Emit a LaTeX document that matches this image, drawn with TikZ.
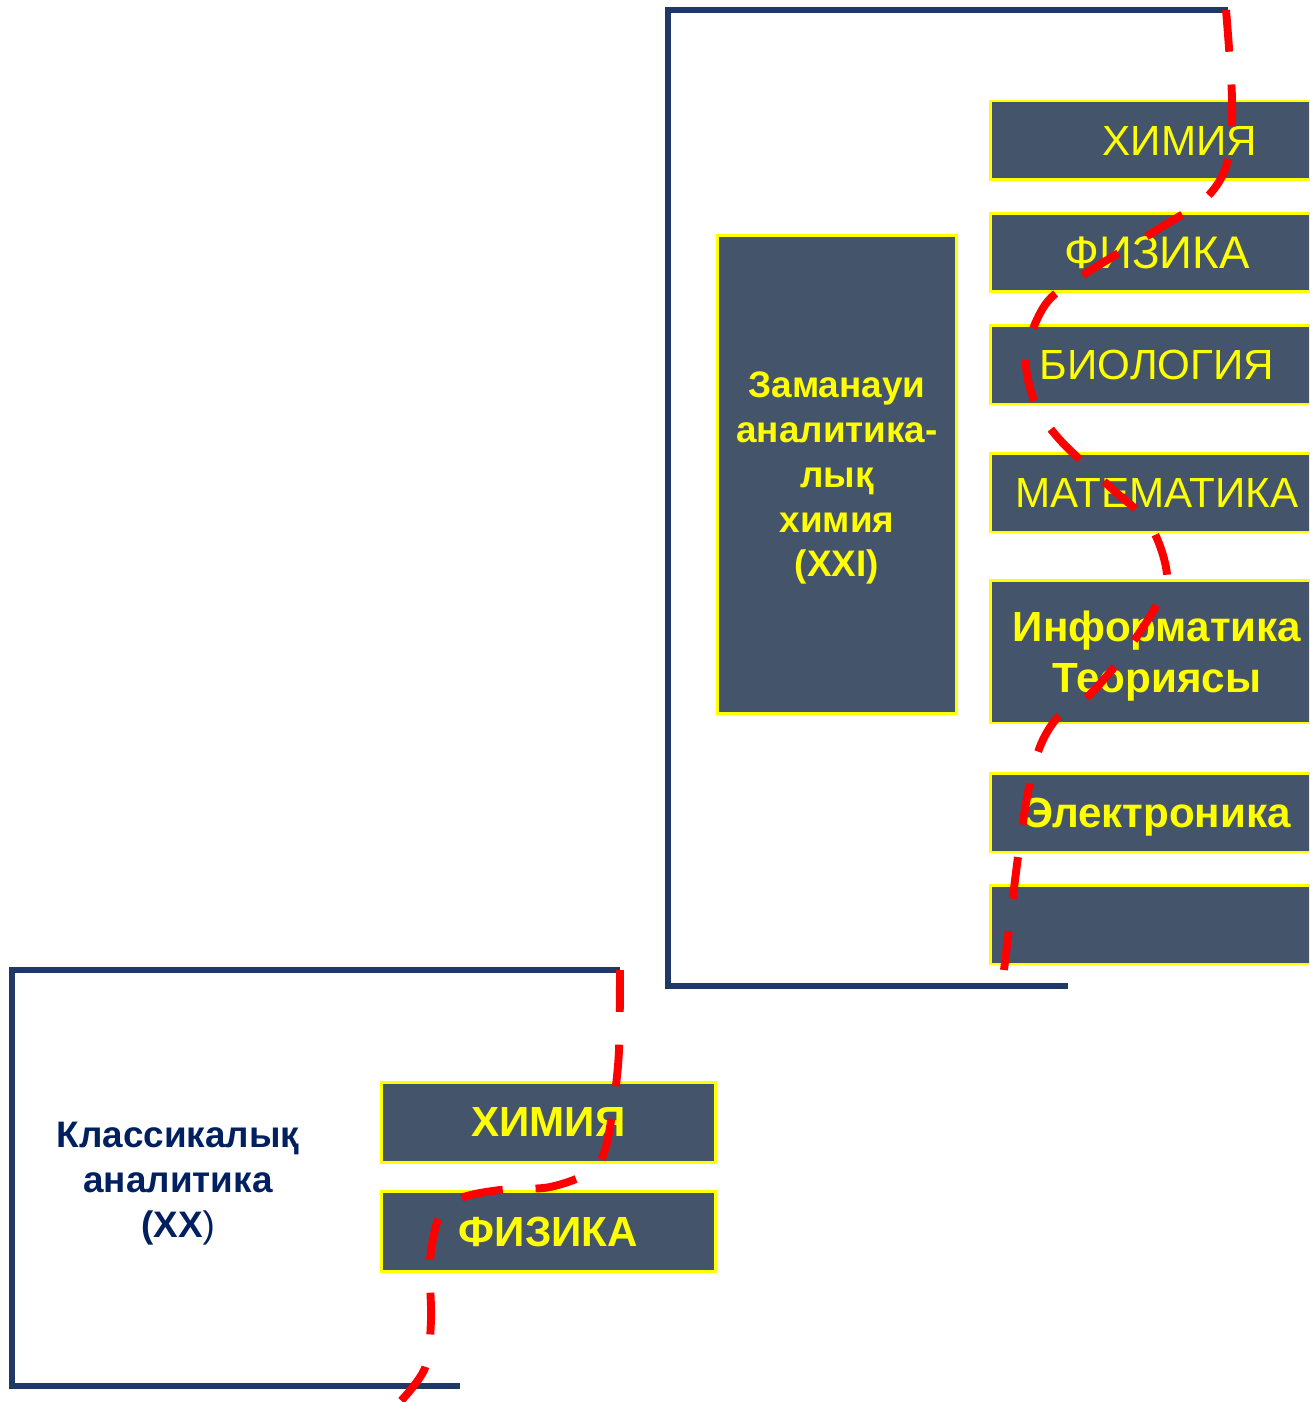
\documentclass[tikz,border=0pt]{standalone}
\usepackage{fontspec}
\setmainfont{Liberation Sans}
\definecolor{slate}{HTML}{44546A}
\definecolor{framecol}{HTML}{203864}
\definecolor{inkblue}{HTML}{002060}
\definecolor{boxline}{HTML}{FFFF00}
\begin{document}
\begin{tikzpicture}[x=0.02cm,y=-0.02cm,
        subj/.style={draw=boxline,line width=1.7pt,fill=slate,text=boxline,inner sep=0pt,
            minimum width=6.68cm,minimum height=1.58cm,align=center,text depth=0pt,
            font=\fontsize{24}{29}\selectfont},
        boldsubj/.style={subj,font=\bfseries\fontsize{24}{29}\selectfont},
        bracket/.style={draw=framecol,line width=3.4pt},
        redpath/.style={draw=red,line width=4.5pt,dash pattern=on 23.8pt off 18.7pt}]
        \clip (0,0) rectangle (1309,1402);
        \begin{scope}
            %% bracket (XXI)
            \draw[bracket] (1228,10) -- (668,10) -- (668,986) -- (1068,986);
            %% modern box
            \node[subj,minimum width=4.8cm,minimum height=9.58cm,
                font=\bfseries\fontsize{21}{25.5}\selectfont] (modern) at (837,474.5)
                {Заманауи\\аналитика-\\лық\\химия\\(XXI)};
            %% subjects
            \node[subj] (chem) at (1157,140.5) {\hspace*{0.92cm}ХИМИЯ};
            \node[subj,font=\fontsize{26}{31}\selectfont] (phys) at (1157,252.5) {ФИЗИКА};
            \node[subj] (bio) at (1157,364.5) {БИОЛОГИЯ};
            \node[subj] (math) at (1157,492.5) {МАТЕМАТИКА};
            \node[boldsubj,minimum height=2.86cm] (info) at (1157,651.5) {Информатика\\Теориясы};
            \node[boldsubj] (elec) at (1157,812.5) {Электроника};
            \node[subj] (empty) at (1157,924.5) {};
            %% path
            \draw[redpath] plot[smooth,tension=0.55] coordinates {(1226,10) (1232,100) (1228,160)
                (1207,197) (1160,228) (1080,277) (1045,305) (1026,355) (1035,403) (1060,440)
                (1110,487) (1150,525) (1167,575) (1155,608) (1120,660) (1084,700) (1057,718)
                (1037,755) (1022,828) (1004,970)};
        \end{scope}
        \begin{scope}
            %% bracket (XX)
            \draw[bracket] (620,970) -- (12,970) -- (12,1386) -- (460,1386);
            %% label
            \node[text=inkblue,align=center,text depth=0pt,font=\bfseries\fontsize{21}{25.5}\selectfont]
                (classic) at (178,1180) {Классикалық\\аналитика\\(XX\mdseries)};
            %% subjects
            \node[boldsubj,minimum width=6.7cm,minimum height=1.6cm] (chemold) at (548.5,1122) {ХИМИЯ};
            \node[boldsubj,minimum width=6.7cm,minimum height=1.6cm] (physold) at (548.5,1231.5) {ФИЗИКА};
            %% path
            \draw[redpath] plot[smooth,tension=0.55] coordinates {(620,970) (619,1050) (614,1100)
                (605,1150) (590,1172) (550,1187) (500,1190) (461,1198) (440,1215) (430,1260)
                (431,1320) (425,1368) (400,1402)};
        \end{scope}
    \end{tikzpicture}
\end{document}
